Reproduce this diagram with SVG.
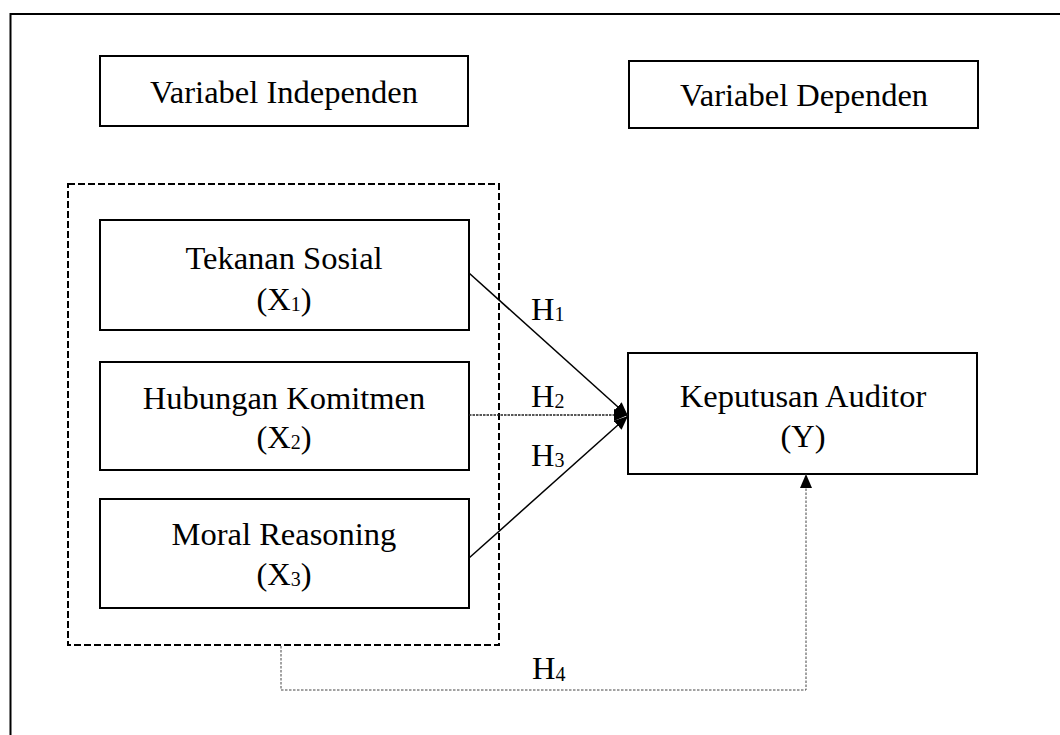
<svg xmlns="http://www.w3.org/2000/svg" width="1060" height="735" viewBox="0 0 1060 735">
<style>
  text { font-family: "Liberation Serif", "Times New Roman", serif; font-size: 32.5px; fill: #000; }
  .c { text-anchor: middle; }
  .box { fill: #fff; stroke: #000; stroke-width: 2; }
  .sub { font-size: 20px; }
  .solid { fill: none; stroke: #000; stroke-width: 1.5; }
  .dot { fill: none; stroke: #222; stroke-width: 1.5; stroke-dasharray: 2.5 1; }
  .dot4 { fill: none; stroke: #444; stroke-width: 1; stroke-dasharray: 2.5 1.5; }
</style>
<defs>
  <marker id="ah" markerUnits="userSpaceOnUse" markerWidth="14" markerHeight="12" refX="14" refY="6" orient="auto">
    <path d="M0,0 L14,6 L0,12 z" fill="#000"/>
  </marker>
</defs>
<rect width="1060" height="735" fill="#fff"/>
<rect id="frame" x="10.5" y="14" width="1100" height="800" fill="none" stroke="#000" stroke-width="2"/>

<g id="label-independen">
  <rect class="box" x="100" y="56" width="368" height="70"/>
  <text class="c" x="284" y="103">Variabel Independen</text>
</g>
<g id="label-dependen">
  <rect class="box" x="629" y="61" width="349" height="67"/>
  <text class="c" x="804" y="106">Variabel Dependen</text>
</g>

<g id="group-independen">
  <rect x="68" y="184" width="431" height="461" fill="none" stroke="#000" stroke-width="2" stroke-dasharray="7 3"/>
</g>

<g id="x1">
  <rect class="box" x="100" y="220" width="369" height="110"/>
  <text class="c" x="284" y="269">Tekanan Sosial</text>
  <text class="c" x="284" y="310">(X<tspan class="sub" dy="1">1</tspan><tspan dy="-1">)</tspan></text>
</g>
<g id="x2">
  <rect class="box" x="100" y="362" width="369" height="108"/>
  <text class="c" x="284" y="409">Hubungan Komitmen</text>
  <text class="c" x="284" y="448">(X<tspan class="sub" dy="1">2</tspan><tspan dy="-1">)</tspan></text>
</g>
<g id="x3">
  <rect class="box" x="100" y="499" width="369" height="109"/>
  <text class="c" x="284" y="545">Moral Reasoning</text>
  <text class="c" x="284" y="585">(X<tspan class="sub" dy="1">3</tspan><tspan dy="-1">)</tspan></text>
</g>
<g id="y">
  <rect class="box" x="628" y="353" width="349" height="121"/>
  <text class="c" x="803" y="407">Keputusan Auditor</text>
  <text class="c" x="803" y="447">(Y)</text>
</g>

<g id="connectors">
  <line class="solid" x1="469" y1="273" x2="628" y2="416" marker-end="url(#ah)"/>
  <line class="dot" x1="469" y1="415" x2="628" y2="415" marker-end="url(#ah)"/>
  <line class="solid" x1="469" y1="558" x2="628" y2="416" marker-end="url(#ah)"/>
  <path class="dot4" d="M281,646 V690 H806 V474" marker-end="url(#ah)"/>
  <text x="531" y="320">H<tspan class="sub" dy="1">1</tspan></text>
  <text x="531" y="407">H<tspan class="sub" dy="1">2</tspan></text>
  <text x="531" y="466">H<tspan class="sub" dy="1">3</tspan></text>
  <text x="532" y="679">H<tspan class="sub" dy="2">4</tspan></text>
</g>
</svg>
